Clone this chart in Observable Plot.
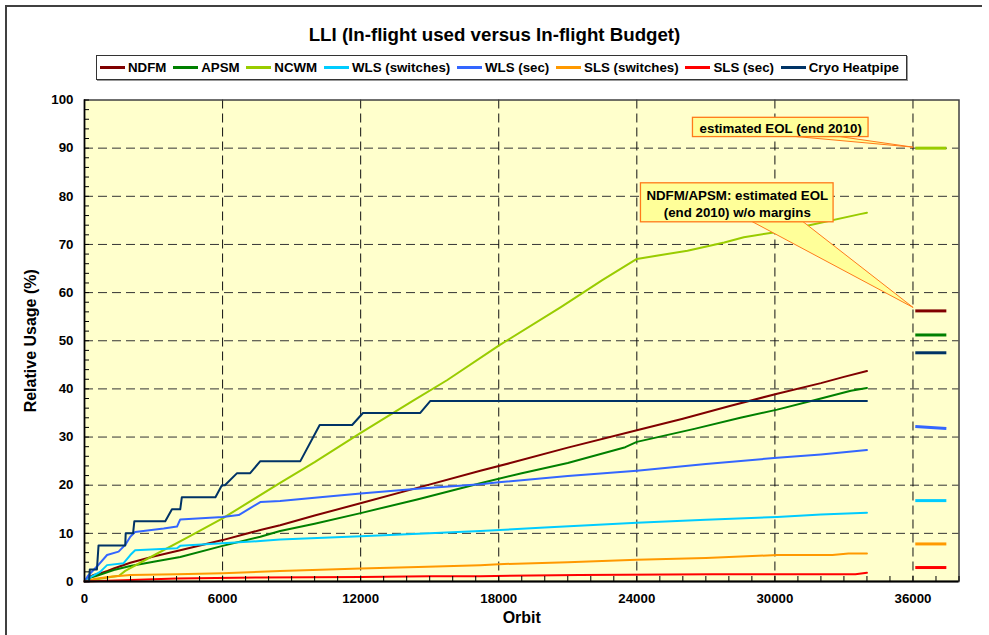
<!DOCTYPE html>
<html><head><meta charset="utf-8">
<script src="https://cdn.jsdelivr.net/npm/d3@7"></script>
<script src="https://cdn.jsdelivr.net/npm/@observablehq/plot@0.6"></script>
<style>
body{margin:0;background:#fff;font-family:"Liberation Sans",Arial,sans-serif;}
#wrap{position:relative;width:989px;height:635px;overflow:hidden;}
#border{position:absolute;left:5px;top:5px;width:975px;height:640px;border-left:2px solid #404040;border-top:2px solid #404040;}
#title{position:absolute;left:0;width:989px;top:24px;text-align:center;font-weight:bold;font-size:18.7px;color:#000;line-height:22px;}
#legend{position:absolute;left:96px;top:55px;width:811px;height:25px;box-sizing:border-box;border:1px solid #333;box-shadow:1px 1px 0 #999;display:flex;align-items:center;justify-content:space-between;padding:0 7px 0 3px;background:#fff;}
.item{display:flex;align-items:center;font-weight:bold;font-size:13.3px;color:#000;white-space:nowrap;}
.sw{width:25px;height:2.5px;margin-right:3px;}
#chart{position:absolute;left:0;top:85px;}
</style></head>
<body>
<div id="wrap">
<div id="border"></div>
<div id="title">LLI (In-flight used versus In-flight Budget)</div>
<div id="legend"></div>
<div id="chart"></div>
</div>
<script>
// ---- data ----
const seriesNames = ["NDFM","APSM","NCWM","WLS (switches)","WLS (sec)","SLS (switches)","SLS (sec)","Cryo Heatpipe"];
const seriesColors = ["#800000","#008000","#99cc00","#00ccff","#3366ff","#ff9900","#ff0000","#003366"];

const NDFM = [[0,0],[150,0.8],[400,1.35],[700,1.7],[1000,2.2],[1270,2.7],[1990,3.9],[3000,5.2],[4160,6.5],[6000,8.6],[7640,10.7],[8500,11.7],[10000,13.7],[11950,16.2],[14500,19.5],[17200,23.0],[18500,24.6],[21000,27.8],[24000,31.4],[26000,33.8],[28000,36.4],[30100,39.0],[32000,41.2],[33000,42.5],[34000,43.7]];
const APSM = [[0,0],[200,0.7],[600,1.3],[1270,2.4],[1990,3.2],[3000,4.1],[4160,5.1],[6000,7.4],[7640,9.3],[8500,10.5],[10000,12.0],[12000,14.2],[14500,17.1],[17200,20.4],[19000,22.5],[21000,24.6],[23500,27.9],[24000,29.0],[26500,31.7],[28500,34.0],[30100,35.7],[32000,38.0],[33300,39.6],[34000,40.2]];
const NCWM = [[0,0],[600,0.5],[1200,1.0],[1500,1.2],[1770,2.2],[3000,5.4],[4500,9.2],[6000,13.1],[8500,20.5],[10000,24.8],[11950,30.7],[14300,37.6],[15750,41.8],[18000,49.0],[20700,57.0],[22500,62.6],[24000,67.0],[26200,68.7],[27800,70.4],[28650,71.5],[29950,72.5],[31500,74.0],[33700,76.3],[34000,76.6]];
const WLS_SW = [[0,0],[300,1.0],[680,2.0],[980,3.4],[1700,3.8],[1990,5.5],[2200,6.5],[4020,6.9],[4160,7.4],[7640,8.4],[8500,8.7],[12000,9.4],[14500,9.9],[17200,10.5],[20000,11.2],[24000,12.2],[27000,12.8],[30100,13.4],[32000,13.9],[34000,14.3]];
const WLS_SEC = [[0,0],[150,1.2],[540,3.1],[980,5.5],[1480,6.2],[1770,7.6],[1990,9.3],[2200,10.3],[3440,11.0],[4020,11.4],[4160,12.9],[6000,13.4],[6700,13.8],[7640,16.5],[8500,16.7],[10000,17.4],[12000,18.3],[14600,19.3],[17200,20.2],[18000,20.6],[21000,21.9],[24000,23.0],[27000,24.4],[30100,25.7],[32000,26.4],[34000,27.3]];
const SLS_SW = [[0,0],[400,0.5],[1120,1.0],[2000,1.35],[4000,1.5],[6000,1.7],[7640,2.0],[8500,2.2],[12000,2.7],[14500,3.0],[17200,3.4],[18000,3.6],[21000,4.0],[24000,4.5],[27000,4.9],[30100,5.5],[32500,5.5],[33200,5.8],[34000,5.8]];
const SLS_SEC = [[0,0],[2000,0.3],[4000,0.6],[7600,0.85],[12000,0.95],[15000,1.1],[17200,1.1],[21500,1.35],[27300,1.5],[33500,1.5],[34000,1.8]];
const CRYO = [[0,0],[200,0],[230,2.5],[540,2.5],[610,7.5],[1770,7.5],[1790,10],[2110,10],[2165,12.5],[3510,12.5],[3800,15],[4160,15],[4230,17.5],[5690,17.5],[5970,20],[6100,20],[6630,22.5],[7200,22.5],[7640,25],[9380,25],[10220,32.5],[11630,32.5],[12100,35],[14590,35],[15030,37.5],[34000,37.5]];
const seriesData = [NDFM, APSM, NCWM, WLS_SW, WLS_SEC, SLS_SW, SLS_SEC, CRYO];

// estimated EOL budget markers (orbit span, start value, end value)
const eolOrbit = [36100, 37450];
const eolStart = [56.2, 51.2, 90.0, 16.8, 32.2, 7.8, 2.9, 47.5];
const eolEnd   = [56.2, 51.2, 90.0, 16.8, 31.8, 7.8, 2.9, 47.5];

// callouts (in data units: orbit / %)
const calloutText = ["estimated EOL (end 2010)", "NDFM/APSM: estimated EOL\n(end 2010) w/o margins"];
const calloutBox = [[26440, 34070, 92.3, 96.3], [24180, 32550, 74.6, 82.7]];
const calloutWedge = [[30960, 32840, 92.3, 36030, 90.1], [29050, 31250, 74.6, 36030, 56.8]];

const xTicks = [0, 6000, 12000, 18000, 24000, 30000, 36000];
const yTicks = [0, 10, 20, 30, 40, 50, 60, 70, 80, 90, 100];
const xMinor = d3.range(0, 38001, 1000);
const yMinor = d3.range(0, 101, 2);

// ---- legend ----
const legend = document.getElementById("legend");
seriesNames.forEach((n, i) => {
  const it = document.createElement("div"); it.className = "item";
  const sw = document.createElement("div"); sw.className = "sw"; sw.style.background = seriesColors[i];
  const tx = document.createElement("span"); tx.textContent = n;
  it.appendChild(sw); it.appendChild(tx); legend.appendChild(it);
});

// ---- tables ----
const rows = [];
seriesData.forEach((arr, i) => arr.forEach(([x, y]) => rows.push({series: seriesNames[i], x, y})));
const eolRows = seriesNames.map((s, i) => ({series: s, x1: eolOrbit[0], x2: eolOrbit[1], y1: eolStart[i], y2: eolEnd[i]}));
const boxRows = calloutBox.map(([x1, x2, y1, y2], i) => ({x1, x2, y1, y2, text: calloutText[i], cx: (x1 + x2) / 2, cy: (y1 + y2) / 2}));
const wedgeRows = [];
calloutWedge.forEach(([a, b, by, tx, ty], i) => {
  wedgeRows.push({id: i, y: by, x1: a, x2: b});
  wedgeRows.push({id: i, y: ty, x1: tx, x2: tx});
});

const chart = Plot.plot({
  width: 989, height: 550,
  marginLeft: 84, marginRight: 30.5, marginTop: 14.5, marginBottom: 54,
  x: {domain: [0, 38000]},
  y: {domain: [0, 100]},
  color: {domain: seriesNames, range: seriesColors},
  style: {fontFamily: "Liberation Sans, Arial, sans-serif", fontSize: "13.3px", fontWeight: "bold", color: "#000", background: "transparent"},
  marks: [
    Plot.frame({fill: "#ffffcc", stroke: null}),
    Plot.ruleY(yTicks.filter(d => d > 0 && d < 100), {stroke: "#333", strokeDasharray: "9,5", strokeWidth: 1}),
    Plot.ruleX(xTicks.filter(d => d > 0), {stroke: "#111", strokeDasharray: "9,5", strokeWidth: 1}),
    Plot.line(rows, {x: "x", y: "y", z: "series", stroke: "series", strokeWidth: 2}),
    Plot.link(eolRows, {x1: "x1", x2: "x2", y1: "y1", y2: "y2", stroke: "series", strokeWidth: 3}),
    Plot.areaX(wedgeRows, {y: "y", x1: "x1", x2: "x2", z: "id", fill: "#ffff99", stroke: "#ff7a1a", strokeWidth: 1}),
    Plot.rect(boxRows, {x1: "x1", x2: "x2", y1: "y1", y2: "y2", fill: "#ffff99", stroke: "#ff7a1a", strokeWidth: 1.3}),
    Plot.text(boxRows, {x: "cx", y: "cy", text: "text", fontSize: 13.3, fontWeight: "bold", fill: "#000", lineHeight: 1.33}),
    Plot.frame({stroke: "#404040", strokeWidth: 1.5}),
    Plot.ruleY([0], {stroke: "#000", strokeWidth: 2}),
    Plot.ruleX([0], {stroke: "#000", strokeWidth: 1.5}),
    Plot.axisX({ticks: xMinor, tickSize: -5, tickFormat: () => "", label: null, stroke: "#000"}),
    Plot.axisY({ticks: yMinor, tickSize: -5, tickFormat: () => "", label: null, stroke: "#000"}),
    Plot.axisX({ticks: xTicks, tickSize: 0, tickPadding: 12, tickFormat: d => String(d), label: null}),
    Plot.axisY({ticks: yTicks, tickSize: 0, tickPadding: 11, tickFormat: d => String(d), label: null}),
    Plot.text(["Orbit"], {frameAnchor: "bottom", dy: 41, fontSize: 16, fontWeight: "bold", fill: "#000"}),
    Plot.text(["Relative Usage (%)"], {frameAnchor: "left", dx: -54, rotate: -90, textAnchor: "middle", fontSize: 16, fontWeight: "bold", fill: "#000"})
  ]
});
document.getElementById("chart").appendChild(chart);
</script>
</body></html>
